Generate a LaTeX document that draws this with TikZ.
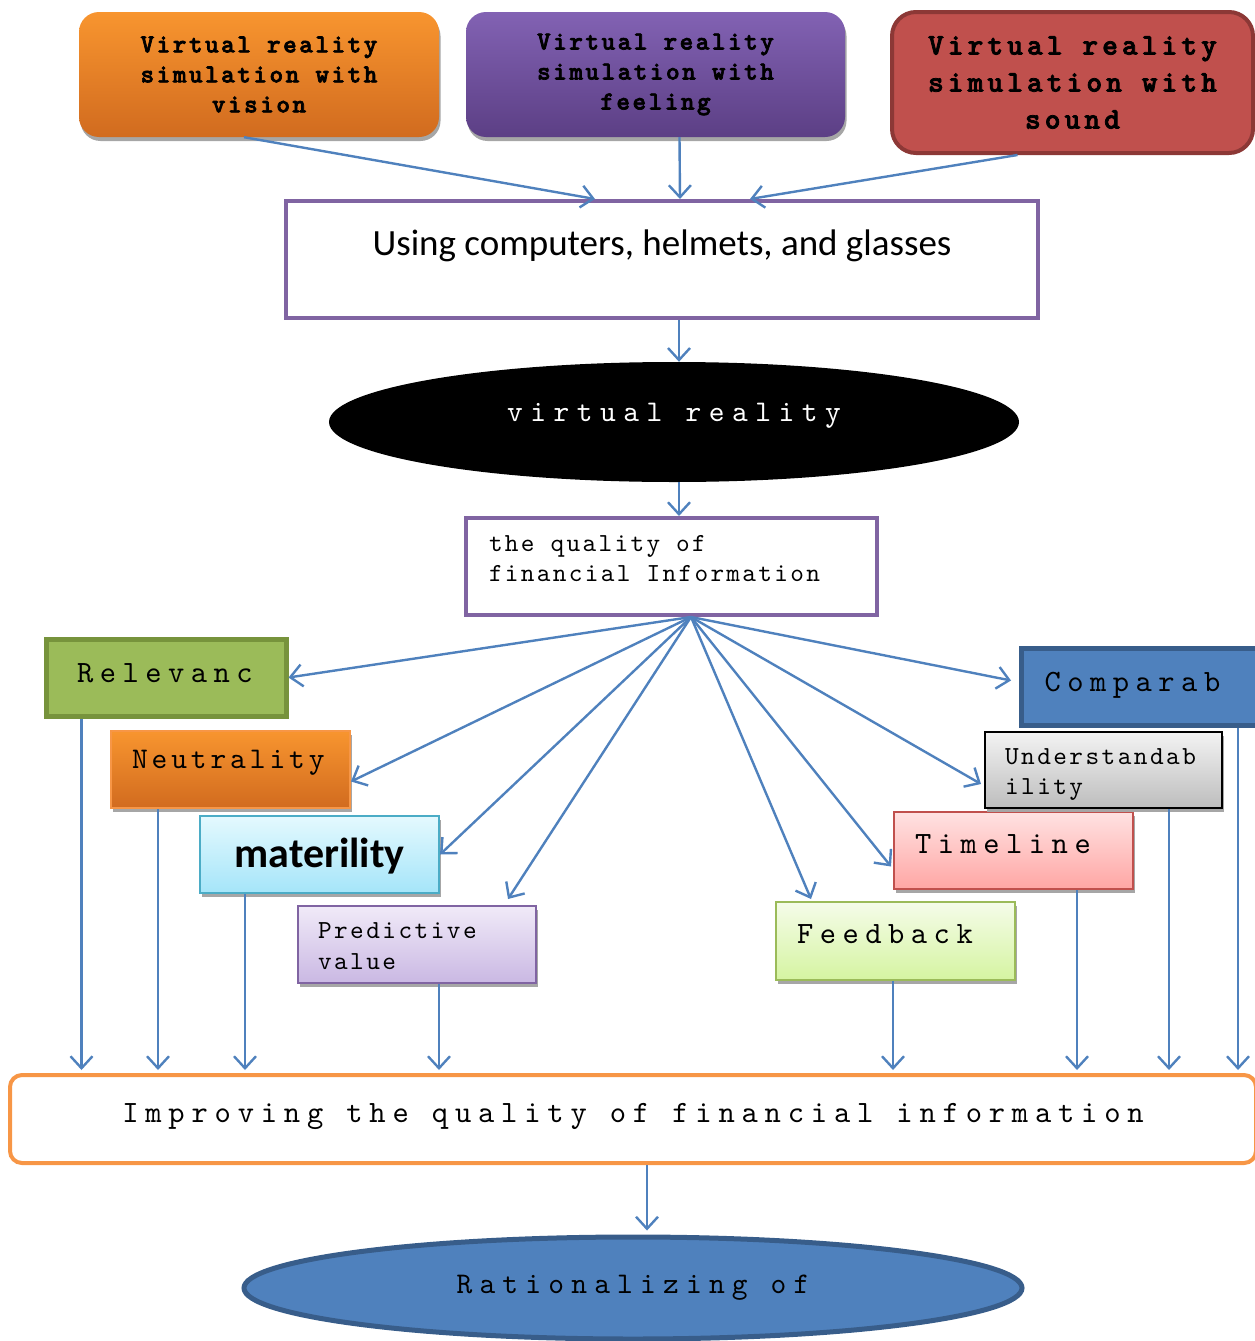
\documentclass[tikz,border=0pt]{standalone}
\usepackage{fontspec}
\newfontfamily\calibri{Carlito}
\newfontfamily\mono{lmmono10-regular.otf}
\newfontfamily\monob[FakeBold=2.5]{lmmonolt10-bold.otf}
\usetikzlibrary{arrows.meta,shapes.geometric,shadows}

\definecolor{vrblue}{HTML}{4F81BD}
\definecolor{vrblueD}{HTML}{385D8A}
\definecolor{vrpurple}{HTML}{8064A2}
\definecolor{vrred}{HTML}{C0504D}
\definecolor{vrredD}{HTML}{8C3836}
\definecolor{vrgreen}{HTML}{9BBB59}
\definecolor{vrgreenD}{HTML}{77933C}
\definecolor{vrorange}{HTML}{F79646}
\definecolor{vrcyan}{HTML}{4BACC6}
\definecolor{orgT}{HTML}{F8952F}
\definecolor{orgB}{HTML}{D16B1F}
\definecolor{purT}{HTML}{8262B3}
\definecolor{purB}{HTML}{5C3F85}
\definecolor{cyT}{HTML}{E4F9FE}
\definecolor{cyB}{HTML}{A5E5F9}
\definecolor{lavT}{HTML}{F0EAF8}
\definecolor{lavB}{HTML}{CAB8E3}
\definecolor{lgT}{HTML}{F5FCE9}
\definecolor{lgB}{HTML}{D5F4A1}
\definecolor{pkT}{HTML}{FFE2E2}
\definecolor{pkB}{HTML}{FFA6A4}
\definecolor{gyT}{HTML}{F3F3F3}
\definecolor{gyB}{HTML}{BDBDBD}

% size, baselineskip, letter spacing
\newcommand{\mtxt}[3]{\mono\fontsize{#1}{#2}\selectfont\addfontfeature{LetterSpace=#3}\def\curls{#3}}
\newcommand{\mbtxt}[3]{\monob\fontsize{#1}{#2}\selectfont\addfontfeature{LetterSpace=#3}\def\curls{#3}}
% a word gap as wide as one letter cell
\newcommand{\gap}{\hskip\dimexpr 0.525em+\curls em/100\relax}

\tikzset{
  link/.style={draw=vrblue, line width=2.4pt, -{Straight Barb[length=12pt,width=22pt]}},
  shade box/.style={drop shadow={shadow xshift=1.5pt,shadow yshift=-4pt,fill=black!35,opacity=1}},
  topbox/.style={rounded corners=20pt, minimum width=#1, minimum height=125pt, inner sep=0pt, align=center},
  attr/.style={rectangle, minimum width=239pt, minimum height=77pt, inner sep=0pt, line width=2pt},
  lefttext/.style={text width=#1, inner xsep=21pt, align=left},
  bigfont/.style={font=\mtxt{31}{36}{21}},
}

\begin{document}
\begin{tikzpicture}[x=1pt,y=-1pt]
\useasboundingbox (0,0) rectangle (1254,1341);

% the three simulations
\node[topbox=360pt, shade box, top color=orgT, bottom color=orgB, font=\mbtxt{26}{30}{9.5}] (vision) at (259,74.5)
  {Virtual\gap reality\\simulation\gap with\\vision};
\node[topbox=379pt, shade box, top color=purT, bottom color=purB, font=\mbtxt{26}{30}{9.5}] (feeling) at (655.5,74.5)
  {Virtual\gap reality\\simulation\gap with\\feeling};
\node[topbox=361pt, rounded corners=24pt, minimum height=141pt, fill=vrred, draw=vrredD, line width=4pt,
      font=\mbtxt{30}{37}{13.5}] (sound) at (1072.5,82.5)
  {Virtual\gap reality\\simulation\gap with\\sound};

\node[draw=vrpurple, line width=4pt, minimum width=752pt, minimum height=117pt, inner sep=0pt,
      font=\calibri\fontsize{37}{44}\selectfont, text height=54pt, text depth=63pt] (using) at (662,259.5)
  {Using computers, helmets, and glasses};

\node[ellipse, fill=black, minimum width=690pt, minimum height=120pt, inner sep=0pt, text=white,
      font=\mtxt{30}{34}{25}, text height=20pt, text depth=22pt] (virtual) at (674,422) {virtual\gap reality};

\node[draw=vrpurple, line width=4pt, minimum height=97pt, text width=365pt, inner xsep=23pt, inner ysep=0pt,
      align=left, font=\mtxt{26}{30}{9}, text height=33pt, text depth=64pt] (quality) at (671.5,566.5)
  {the\gap quality\gap of\\financial\gap Information};

\draw[link] ([xshift=-15pt]vision.south) -- ([xshift=-67pt]using.north);
\draw[link] ([xshift=24pt]feeling.south) -- ([xshift=18pt]using.north);
\draw[link] ([xshift=-55pt]sound.south) -- ([xshift=88pt]using.north);
\draw[link] ([xshift=17pt]using.south) -- ([xshift=5pt]virtual.north);
\draw[link] ([xshift=5pt]virtual.south) -- ([xshift=7.5pt]quality.north);

% characteristics
\node[attr, fill=vrgreen, draw=vrgreenD, line width=5pt, minimum width=240pt, lefttext=178pt, inner xsep=31pt,
      bigfont, text height=43pt, text depth=34pt] (relevanc) at (166,677.5) {Relevanc};
\node[attr, shade box, top color=orgT, bottom color=orgB, draw=vrorange, lefttext=197pt, font=\mtxt{30}{34}{13},
      text height=37pt, text depth=40pt] (neutral) at (230.5,769.5) {Neutrality};
\node[attr, shade box, top color=cyT, bottom color=cyB, draw=vrcyan, font=\calibri\bfseries\fontsize{42}{48}\selectfont,
      text height=51pt, text depth=26pt] (materility) at (319.5,854.5) {materility};
\node[attr, shade box, top color=lavT, bottom color=lavB, draw=vrpurple, minimum width=238pt,
      lefttext=198pt, inner xsep=20pt, font=\mtxt{26}{31}{9.5}, text height=32pt, text depth=45pt] (predictive) at (417,944.5)
  {Predictive\\value};
\node[attr, shade box, top color=lgT, bottom color=lgB, draw=vrgreen, minimum height=78pt, lefttext=197pt, bigfont,
      text height=41pt, text depth=37pt] (feedback) at (895.5,941) {Feedback};
\node[attr, shade box, top color=pkT, bottom color=pkB, draw=vrred, lefttext=197pt, bigfont,
      text height=41pt, text depth=36pt] (timeline) at (1013.5,850.5) {Timeline};
\node[attr, shade box, top color=gyT, bottom color=gyB, draw=black, minimum width=237pt, minimum height=76pt,
      lefttext=197pt, inner xsep=20pt, font=\mtxt{26}{30}{9.5}, text height=32pt, text depth=44pt] (understand) at (1103.5,770)
  {Understandab\\ility};
\node[attr, anchor=west, fill=vrblue, draw=vrblueD, line width=5pt, lefttext=220pt, inner xsep=23pt,
      bigfont, text height=43pt, text depth=34pt] (comparab) at (1019,686.5) {Comparab};

\coordinate (hub) at ([xshift=19.5pt]quality.south);
\draw[link] (hub) -- (relevanc.east);
\draw[link] (hub) -- ([yshift=-12pt]neutral.east);
\draw[link] (hub) -- (materility.east);
\draw[link] (hub) -- ([xshift=-29pt,yshift=6pt]predictive.north east);
\draw[link] (hub) -- ([xshift=36pt,yshift=2pt]feedback.north west);
\draw[link] (hub) -- ([xshift=-2pt,yshift=-16pt]timeline.west);
\draw[link] (hub) -- ([xshift=-3pt,yshift=-14pt]understand.west);
\draw[link] (hub) -- ([xshift=-8pt,yshift=6pt]comparab.west);

% result
\node[rounded corners=12pt, draw=vrorange, line width=4pt, minimum width=1246pt, minimum height=88pt, inner sep=0pt,
      font=\mtxt{31}{36}{22}, text height=47pt, text depth=41pt] (improve) at (633,1119)
  {Improving\gap the\gap quality\gap of\gap financial\gap information};
\node[ellipse, fill=vrblue, draw=vrblueD, line width=5pt, minimum width=778pt, minimum height=102pt, inner sep=0pt,
      font=\mtxt{30}{34}{24}, text height=25pt, text depth=15pt] (rational) at (633,1288) {Rationalizing\gap of};

\foreach \b/\dx in {relevanc/38,neutral/48,materility/46,predictive/142,feedback/118,timeline/184,understand/185,comparab/219}{
  \path ([xshift=\dx pt]\b.south west) coordinate (s);
  \draw[link, shorten >=3pt] (s) -- (s |- improve.north);
}
\draw[link, shorten >=4pt] ([xshift=14pt]improve.south) -- ([xshift=14pt]rational.north);
\end{tikzpicture}
\end{document}
